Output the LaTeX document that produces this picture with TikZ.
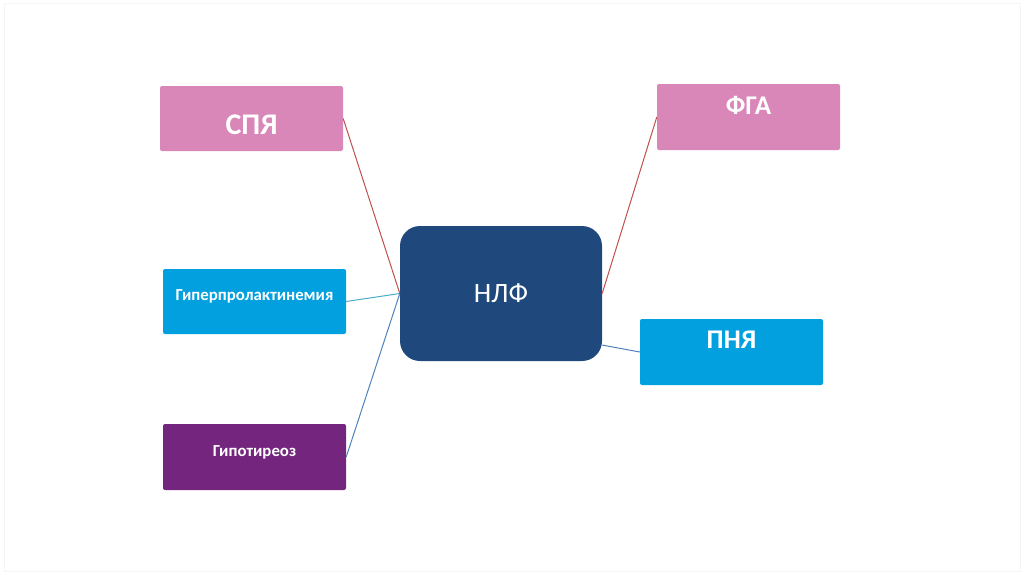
\documentclass[tikz,border=0pt]{standalone}
\usepackage{fontspec}
\setmainfont{Carlito}
\usetikzlibrary{positioning}

\definecolor{boxpink}{RGB}{217,135,185}
\definecolor{boxcyan}{RGB}{2,160,222}
\definecolor{boxpurple}{RGB}{116,38,127}
\definecolor{boxnavy}{RGB}{31,73,125}
\definecolor{linered}{RGB}{192,80,77}
\definecolor{linecyan}{RGB}{75,172,198}
\definecolor{lineblue}{RGB}{79,129,189}

\begin{document}
\begin{tikzpicture}[x=1pt,y=-1pt,
  box/.style={inner sep=0pt, minimum width=183pt, minimum height=65pt, rounded corners=2pt},
  boxtext/.style={text=white, inner sep=0pt},
  bigtext/.style={boxtext, font=\bfseries\fontsize{30}{30}\selectfont},
  midtext/.style={boxtext, font=\bfseries\fontsize{27}{27}\selectfont},
  smalltext/.style={boxtext, font=\bfseries\fontsize{16.8}{17}\selectfont},
  link/.style={line width=1pt}]
\useasboundingbox (0,0) rectangle (1024,574);
\draw[black!4] (4,3) rectangle (1020,571);

% left side
\node[box, fill=boxpink, label={[bigtext, yshift=-6.5pt]center:СПЯ}] (spa) at (251.5,118.5) {};
\node[box, fill=boxcyan, label={[smalltext, yshift=5pt]center:Гиперпролактинемия}] (hyper) at (254.5,301.5) {};
\node[box, fill=boxpurple, minimum height=66pt, label={[smalltext, yshift=5pt]center:Гипотиреоз}] (hypo) at (254.5,457) {};

% centre
\node[fill=boxnavy, inner sep=0pt, minimum width=202pt, minimum height=135pt, rounded corners=20pt,
  text=white, font=\fontsize{28}{28}\selectfont] (nlf) at (501,293.5) {НЛФ};

% right side
\node[box, fill=boxpink, minimum height=66pt, label={[midtext, yshift=12pt]center:ФГА}] (fga) at (748.5,117) {};
\node[box, fill=boxcyan, minimum height=66pt, label={[midtext, yshift=12pt]center:ПНЯ}] (pnya) at (731.5,352) {};

% links
\draw[link, linered] (spa.east) -- (nlf.west);
\draw[link, linecyan] (hyper.east) -- (nlf.west);
\draw[link, lineblue] (hypo.east) -- (nlf.west);
\draw[link, linered] (fga.west) -- (nlf.east);
\draw[link, lineblue] (nlf.-27) -- (pnya.west);
\end{tikzpicture}
\end{document}
